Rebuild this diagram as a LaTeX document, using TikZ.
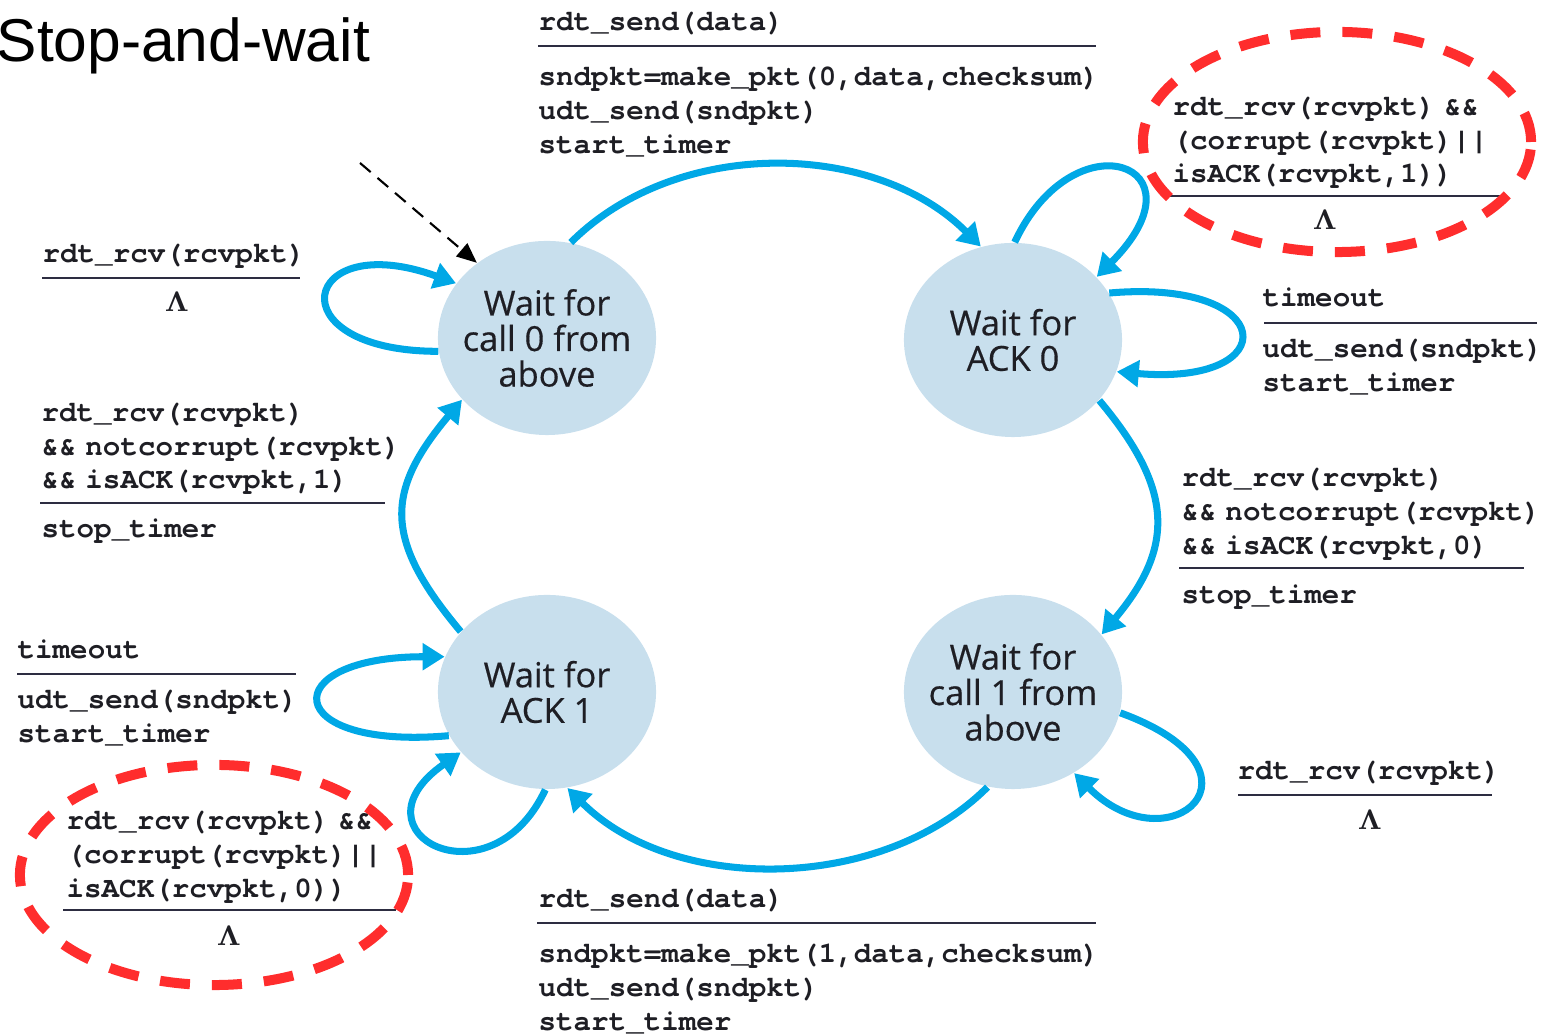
\documentclass[tikz,border=0pt]{standalone}
\usepackage{fontspec}
\usepackage{amsmath}
\usetikzlibrary{shapes.geometric,arrows.meta,positioning}
\newfontfamily\titlefont{Liberation Sans}
\newfontfamily\statefont{Open Sans}[FakeBold=0.4]
\newfontfamily\codefont{texgyrecursor}[Extension=.otf,UprightFont=*-regular,BoldFont=*-bold]
\definecolor{arcblue}{RGB}{0,168,230}
\definecolor{statefill}{RGB}{200,223,237}
\definecolor{ringred}{RGB}{255,45,45}
\definecolor{rulecol}{RGB}{45,45,65}
\definecolor{inkgray}{RGB}{30,30,36}
\newcommand{\andsp}{\hspace{0.3em}}
\tikzset{
  waitstate/.style={ellipse, fill=statefill, minimum width=2.18cm, minimum height=1.94cm, inner sep=-5pt, align=center, text=inkgray, font=\statefont\fontsize{9.8}{10.1}\selectfont},
  flow/.style={draw=arcblue, line width=2pt, -{Triangle[length=0.22cm,width=0.26cm]}},
  code/.style={anchor=north west, inner sep=0pt, align=left, text=inkgray, font=\codefont\bfseries\fontsize{8.3}{9.65}\selectfont},
  rule/.style={draw=rulecol, line width=0.75pt},
  lam/.style={inner sep=0pt, text=inkgray, font=\boldmath\fontsize{8.5}{9}\selectfont},
  ring/.style={ellipse, draw=ringred, line width=0.1cm, dash pattern=on 0.3cm off 0.22cm, inner sep=0pt},
  initarr/.style={draw=black, line width=0.6pt, dash pattern=on 0.14cm off 0.09cm, -{Triangle[length=0.2cm,width=0.17cm]}}
}
\begin{document}
\begin{tikzpicture}[x=0.01cm,y=0.01cm]
\useasboundingbox (0,0) rectangle (1547,1034);
\node[anchor=base west, inner sep=0pt, font=\titlefont\fontsize{17.2}{18}\selectfont] (title) at (-4,972) {Stop-and-wait};

\node[waitstate] (s0) at (547,696) {Wait for\\call 0 from\\above};
\node[waitstate] (s1) at (1013,694) {Wait for\\ACK 0};
\node[waitstate] (s2) at (547,342) {Wait for\\ACK 1};
\node[waitstate] (s3) at (1013,342) {Wait for\\call 1 from\\above};

\coordinate (init) at (360,871);
\draw[initarr] (init) -- (s0.133);

\draw[flow] (s0.76) .. controls +(45:150) and +(135:150) .. (s1.109);
\draw[flow] (s1.-35) .. controls +(-50:115) and +(50:115) .. (s3.33);
\draw[flow] (s3.255) .. controls +(-135:150) and +(-45:150) .. (s2.-78);
\draw[flow] (s2.145) .. controls +(130:120) and +(-130:120) .. (s0.216);

\draw[flow] (s0.187) .. controls +(180:165) and +(160:165) .. (s0.149);
\draw[flow] (s1.89) .. controls +(65:140) and +(45:160) .. (s1.37);
\draw[flow] (s1.26) .. controls +(5:170) and +(-5:170) .. (s1.-17);
\draw[flow] (s2.204) .. controls +(185:170) and +(180:170) .. (s2.161);
\draw[flow] (s2.269) .. controls +(245:130) and +(215:140) .. (s2.215);
\draw[flow] (s3.-11) .. controls +(-20:170) and +(-45:135) .. (s3.-53);

\node[code] (send0) at (538,1023) {rdt\_send(data)};
\draw[rule] (538,988) -- (1096,988);
\node[code] (pkt0) at (538,968) {sndpkt=make\_pkt(0,data,checksum)\\udt\_send(sndpkt)\\start\_timer};

\node[code] (bad1) at (1172,938) {rdt\_rcv(rcvpkt)\andsp\&\&\\(corrupt(rcvpkt)||\\isACK(rcvpkt,1))};
\draw[rule] (1168,838) -- (1502,838);
\node[lam] (nop1) at (1325,814) {$\Lambda$};

\node[code] (tmo0) at (1262,747) {timeout};
\draw[rule] (1264,711) -- (1537,711);
\node[code] (resend0) at (1262,696) {udt\_send(sndpkt)\\start\_timer};

\node[code] (ack0) at (1181,567) {rdt\_rcv(rcvpkt)\\\&\&\andsp notcorrupt(rcvpkt)\\\&\&\andsp isACK(rcvpkt,0)};
\draw[rule] (1179,466) -- (1524,466);
\node[code] (stop0) at (1181,450) {stop\_timer};

\node[code] (dup1) at (1237,274) {rdt\_rcv(rcvpkt)};
\draw[rule] (1238,239) -- (1492,239);
\node[lam] (nop3) at (1370,214) {$\Lambda$};

\node[code] (send1) at (538,146) {rdt\_send(data)};
\draw[rule] (537,111) -- (1096,111);
\node[code] (pkt1) at (538,91) {sndpkt=make\_pkt(1,data,checksum)\\udt\_send(sndpkt)\\start\_timer};

\node[code] (dup0) at (42,791) {rdt\_rcv(rcvpkt)};
\draw[rule] (42,756) -- (300,756);
\node[lam] (nop0) at (177,732) {$\Lambda$};

\node[code] (ack1) at (41,632) {rdt\_rcv(rcvpkt)\\\&\&\andsp notcorrupt(rcvpkt)\\\&\&\andsp isACK(rcvpkt,1)};
\draw[rule] (40,531) -- (385,531);
\node[code] (stop1) at (41,516) {stop\_timer};

\node[code] (tmo1) at (17,395) {timeout};
\draw[rule] (17,360) -- (296,360);
\node[code] (resend1) at (17,345) {udt\_send(sndpkt)\\start\_timer};

\node[code] (bad0) at (66,224) {rdt\_rcv(rcvpkt)\andsp\&\&\\(corrupt(rcvpkt)||\\isACK(rcvpkt,0))};
\draw[rule] (63,124) -- (396,124);
\node[lam] (nop2) at (229,98) {$\Lambda$};

\node[ring, minimum width=3.88cm, minimum height=2.2cm] (ring1) at (1337,892) {};
\node[ring, minimum width=3.88cm, minimum height=2.2cm] (ring0) at (214,159) {};
\end{tikzpicture}
\end{document}
